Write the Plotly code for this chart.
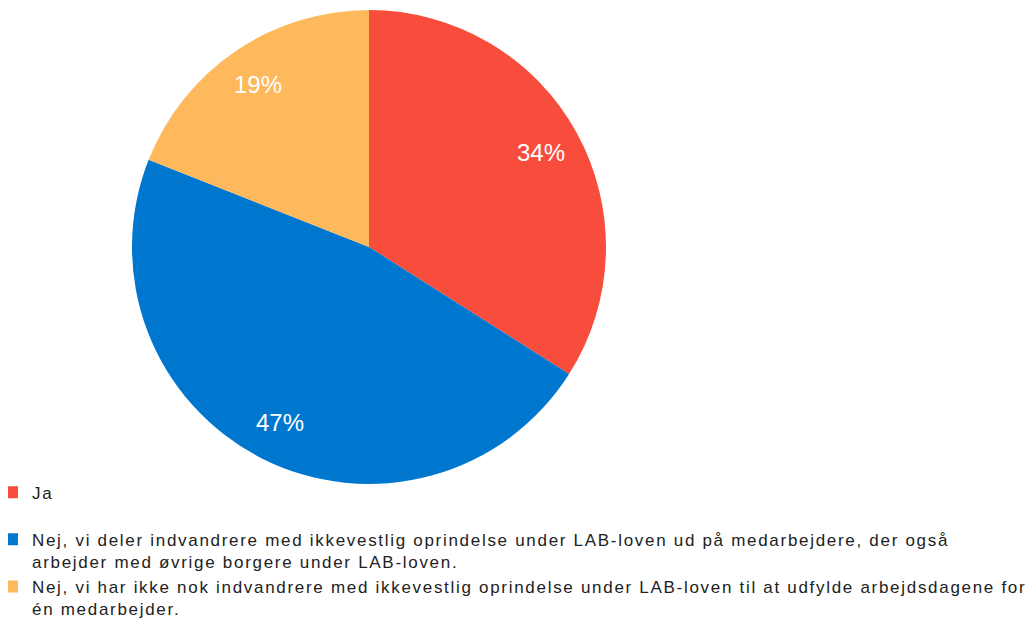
import math

import plotly.graph_objects as go

labels = [
    "Ja",
    "Nej, vi deler indvandrere med ikkevestlig oprindelse under LAB-loven ud på medarbejdere, der også<br>"
    "arbejder med øvrige borgere under LAB-loven.",
    "Nej, vi har ikke nok indvandrere med ikkevestlig oprindelse under LAB-loven til at udfylde arbejdsdagene for<br>"
    "én medarbejder.",
]
values = [34, 47, 19]
colors = ["#F84C3C", "#0077CF", "#FDB95B"]

W, H = 1033, 626
# page body has an 8px margin, so the domain is nudged up/left to compensate
dom_x = [124 / W, 598 / W]
dom_y = [150 / H, 624 / H]


def spaced(s):
    # the reference text runs noticeably wider than plain Arial
    return "<br>".join(
        f'<span style="letter-spacing:1.7px">{part}</span>' for part in s.split("<br>")
    )


legend_names = [spaced(labels[0]) + "<br> "] + [spaced(t) for t in labels[1:]]

fig = go.Figure()
fig.add_trace(go.Pie(
    labels=legend_names,
    values=values,
    marker=dict(colors=colors, line=dict(width=0)),
    sort=False,
    direction="clockwise",
    rotation=0,
    textinfo="none",
    domain=dict(x=dom_x, y=dom_y),
    hovertext=[t.replace("<br>", " ") for t in labels],
    hoverinfo="text+percent",
))

# percentage labels at ~83% of the radius, mid-slice
cx = (dom_x[0] + dom_x[1]) / 2 * W
cy = (dom_y[0] + dom_y[1]) / 2 * H
r = min((dom_x[1] - dom_x[0]) * W, (dom_y[1] - dom_y[0]) * H) / 2
total = sum(values)
cum = 0
for v in values:
    mid = (cum + v / 2) / total * 2 * math.pi
    cum += v
    px = cx + 0.83 * r * math.sin(mid)
    py = cy + 0.83 * r * math.cos(mid)
    fig.add_annotation(
        x=px / W, y=py / H, xref="paper", yref="paper",
        xanchor="center", yanchor="middle",
        text=f"{round(v / total * 100)}%", showarrow=False,
        font=dict(color="white", size=24, family="Liberation Sans, Arial"),
    )

fig.update_layout(
    width=W,
    height=H,
    margin=dict(l=0, r=0, t=0, b=0, autoexpand=False),
    paper_bgcolor="white",
    plot_bgcolor="white",
    font=dict(family="Liberation Sans, Arial", size=17, color="#222222"),
    showlegend=True,
    legend=dict(
        x=-0.0155, y=0.2546, xanchor="left", yanchor="top",
        valign="top", traceorder="normal",
        bgcolor="rgba(0,0,0,0)",
        font=dict(size=17, color="#222222"),
    ),
)

fig.write_html("out.html")
